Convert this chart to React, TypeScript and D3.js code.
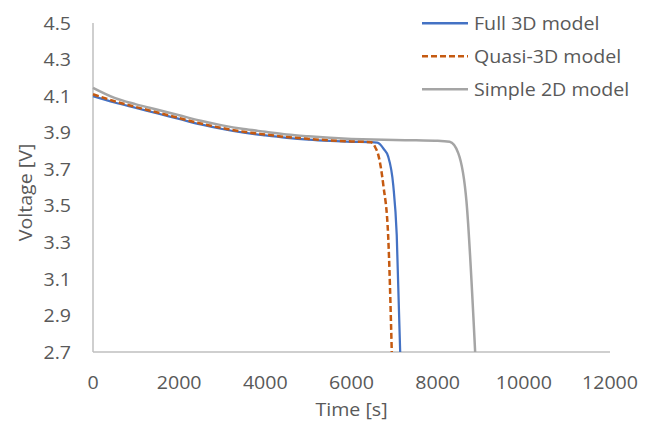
import React from "react";
import * as d3 from "d3";

const xTicks = [0, 2000, 4000, 6000, 8000, 10000, 12000];
const yTicks = [2.7, 2.9, 3.1, 3.3, 3.5, 3.7, 3.9, 4.1, 4.3, 4.5];

const fullT = [0, 500, 1000, 1500, 2000, 2500, 3000, 3500, 4000, 4500, 5000, 5500, 6000, 6400, 6600, 6750, 6850, 6970, 7050, 7130];
const fullV = [4.1, 4.065, 4.035, 4.005, 3.975, 3.945, 3.92, 3.9, 3.885, 3.872, 3.862, 3.855, 3.85, 3.848, 3.845, 3.81, 3.77, 3.61, 3.34, 2.7];

const quasiT = [0, 500, 1000, 1500, 2000, 2500, 3000, 3500, 4000, 4500, 5000, 5500, 6000, 6450, 6550, 6620, 6740, 6850, 6935];
const quasiV = [4.11, 4.072, 4.04, 4.01, 3.98, 3.95, 3.925, 3.905, 3.89, 3.876, 3.866, 3.858, 3.852, 3.848, 3.82, 3.78, 3.61, 3.34, 2.7];

const simpleT = [0, 500, 1000, 1500, 2000, 2500, 3000, 3500, 4000, 4500, 5000, 5500, 6000, 6500, 7000, 7500, 8000, 8280, 8480, 8670, 8870];
const simpleV = [4.145, 4.09, 4.055, 4.025, 3.995, 3.965, 3.94, 3.92, 3.905, 3.89, 3.88, 3.872, 3.866, 3.862, 3.86, 3.858, 3.856, 3.85, 3.787, 3.52, 2.7];

const seriesNames = ["Full 3D model", "Quasi-3D model", "Simple 2D model"];
const seriesColors = ["#4472C4", "#C55A11", "#A5A5A5"];

const FONT = "'Open Sans', sans-serif";
const TXT = "#595959";
const SX = 1.09;

function T({ x, y, anchor = "start", rotate = 0, children }: any) {
  return (
    <text
      transform={`translate(${x},${y}) rotate(${rotate}) scale(${SX},1)`}
      textAnchor={anchor}
      dominantBaseline="central"
      fontFamily={FONT}
      fontSize={18}
      fill={TXT}
    >
      {children}
    </text>
  );
}

export default function App() {
  const W = 648, H = 423;
  const left = 93, right = 610, top = 23, bottom = 352;
  const x = d3.scaleLinear().domain([0, 12000]).range([left, right]);
  const y = d3.scaleLinear().domain([2.7, 4.5]).range([bottom, top]);
  const line = d3
    .line<[number, number]>()
    .x((d) => x(d[0]))
    .y((d) => y(d[1]))
    .curve(d3.curveMonotoneX);

  const series = [
    { t: fullT, v: fullV, dash: undefined, w: 2.25 },
    { t: quasiT, v: quasiV, dash: "6 3", w: 2.5 },
    { t: simpleT, v: simpleV, dash: undefined, w: 2.5 },
  ];

  return (
    <svg width={W} height={H} style={{ position: "absolute", left: 0, top: 0, background: "#fff" }}>
      <line x1={left} x2={left} y1={top} y2={bottom} stroke="#BFBFBF" strokeWidth={1.5} />
      <line x1={left} x2={right} y1={bottom} y2={bottom} stroke="#BFBFBF" strokeWidth={1.5} />

      {[2, 0, 1].map((i) => {
        const s = series[i];
        const pts = s.t.map((t, k) => [t, s.v[k]] as [number, number]);
        return (
          <path
            key={i}
            d={line(pts) || ""}
            fill="none"
            stroke={seriesColors[i]}
            strokeWidth={s.w}
            strokeDasharray={s.dash}
          />
        );
      })}

      {yTicks.map((v) => (
        <T key={v} x={71} y={y(v)} anchor="end">
          {v.toFixed(1)}
        </T>
      ))}
      {xTicks.map((t) => (
        <T key={t} x={x(t)} y={382} anchor="middle">
          {t}
        </T>
      ))}

      <T x={351.5} y={409} anchor="middle">
        Time [s]
      </T>
      <T x={25} y={(top + bottom) / 2 + 5} anchor="middle" rotate={-90}>
        Voltage [V]
      </T>

      {seriesNames.map((n, i) => {
        const ly = 23.3 + i * 33;
        return (
          <g key={n}>
            <line
              x1={422}
              x2={468}
              y1={ly}
              y2={ly}
              stroke={seriesColors[i]}
              strokeWidth={2.5}
              strokeDasharray={series[i].dash}
            />
            <T x={474} y={ly}>
              {n}
            </T>
          </g>
        );
      })}
    </svg>
  );
}
